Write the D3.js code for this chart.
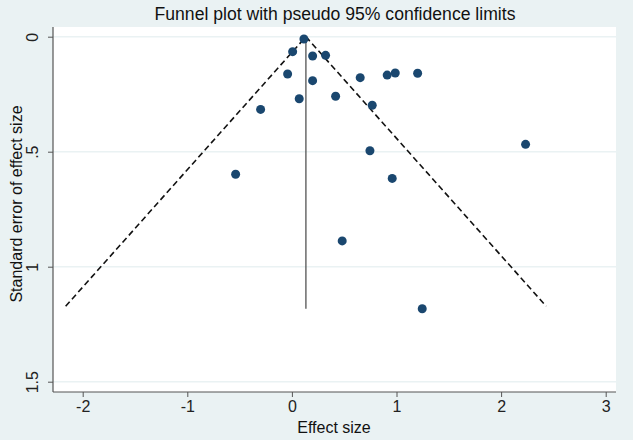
<!DOCTYPE html>
<html><head><meta charset="utf-8">
<script src="https://cdn.jsdelivr.net/npm/d3@7"></script>
<style>body{margin:0;background:#eaf2f3;}svg{display:block;font-family:"Liberation Sans",Arial,sans-serif;}</style>
</head><body>
<script>
const effectSize = [0.115, 0.007, 0.198, 0.322, -0.041, 0.198, 0.653, 0.911, 0.988, 1.202, 0.070, 0.418, 0.768, -0.299, -0.538, 0.746, 0.959, 0.481, 1.246, 2.234];
const stdError   = [0.010, 0.065, 0.084, 0.081, 0.162, 0.191, 0.178, 0.167, 0.158, 0.159, 0.270, 0.259, 0.298, 0.316, 0.598, 0.496, 0.616, 0.888, 1.183, 0.468];
const pooledEffect = 0.134;
const funnelMaxSE = 1.172;
const lineMaxSE = 1.183;
const xTicks = [-2, -1, 0, 1, 2, 3];
const xTickLabels = ["-2", "-1", "0", "1", "2", "3"];
const yTicks = [0, 0.5, 1, 1.5];
const yTickLabels = ["0", ".5", "1", "1.5"];

(function () {
const W = 633, H = 440;
const svg = d3.select("body").append("svg").attr("width", W).attr("height", H);
svg.append("rect").attr("width", W).attr("height", H).attr("fill", "#eaf2f3");

const pL = 53, pR = 616, pT = 27, pB = 392;
const x = d3.scaleLinear().domain([-2, 3]).range([82.7, 605.7]);
const y = d3.scaleLinear().domain([0, 1.5]).range([36.7, 381.7]);

svg.append("rect").attr("x", pL).attr("y", pT).attr("width", pR - pL).attr("height", pB - pT).attr("fill", "#ffffff");

// grid
svg.append("g").selectAll("line").data(yTicks).join("line")
  .attr("x1", pL).attr("x2", pR).attr("y1", d => y(d)).attr("y2", d => y(d))
  .attr("stroke", "#eaf2f3").attr("stroke-width", 1.5);

// axes
const xAxis = d3.axisBottom(x).tickValues(xTicks).tickSize(5).tickPadding(4).tickFormat((d, i) => xTickLabels[i]);
const gx = svg.append("g").attr("transform", `translate(0,${pB})`).call(xAxis);
gx.select(".domain").attr("d", `M${pL},0H${pR}`).attr("stroke", "#555").attr("stroke-width", 1.2);
gx.selectAll(".tick line").attr("stroke", "#555");
gx.selectAll(".tick text").attr("font-size", 16).attr("fill", "#222").attr("font-family", "Liberation Sans, Arial, sans-serif");

const yAxis = d3.axisLeft(y).tickValues(yTicks).tickSize(5).tickPadding(0).tickFormat((d, i) => yTickLabels[i]);
const gy = svg.append("g").attr("transform", `translate(${pL},0)`).call(yAxis);
gy.select(".domain").attr("d", `M0,${pT}V${pB}`).attr("stroke", "#555").attr("stroke-width", 1.2);
gy.selectAll(".tick line").attr("stroke", "#555");
gy.selectAll(".tick text").attr("font-size", 16).attr("fill", "#222").attr("font-family", "Liberation Sans, Arial, sans-serif")
  .attr("text-anchor", "middle").attr("x", 0).attr("dy", 0)
  .attr("transform", "translate(-15,0) rotate(-90)");

// funnel lines
const funnel = [[pooledEffect - 1.96 * funnelMaxSE, funnelMaxSE], [pooledEffect, 0], [pooledEffect + 1.96 * funnelMaxSE, funnelMaxSE]];
svg.append("path").datum(funnel)
  .attr("d", d3.line().x(d => x(d[0])).y(d => y(d[1])))
  .attr("fill", "none").attr("stroke", "#111").attr("stroke-width", 1.6).attr("stroke-dasharray", "6,3.5");
svg.append("line").attr("x1", x(pooledEffect)).attr("x2", x(pooledEffect)).attr("y1", y(0)).attr("y2", y(lineMaxSE))
  .attr("stroke", "#444").attr("stroke-width", 1.2);

// points
svg.append("g").selectAll("circle").data(effectSize).join("circle")
  .attr("cx", d => x(d)).attr("cy", (d, i) => y(stdError[i])).attr("r", 4.5).attr("fill", "#1a476f");

// titles
svg.append("text").attr("x", 335).attr("y", 20).attr("text-anchor", "middle").attr("font-size", 17.6).attr("fill", "#111")
  .text("Funnel plot with pseudo 95% confidence limits");
svg.append("text").attr("x", 334).attr("y", 433).attr("text-anchor", "middle").attr("font-size", 16).attr("fill", "#111")
  .text("Effect size");
svg.append("text").attr("transform", `translate(22,204) rotate(-90)`).attr("text-anchor", "middle").attr("font-size", 16).attr("fill", "#111")
  .text("Standard error of effect size");
})();
</script>
</body></html>
